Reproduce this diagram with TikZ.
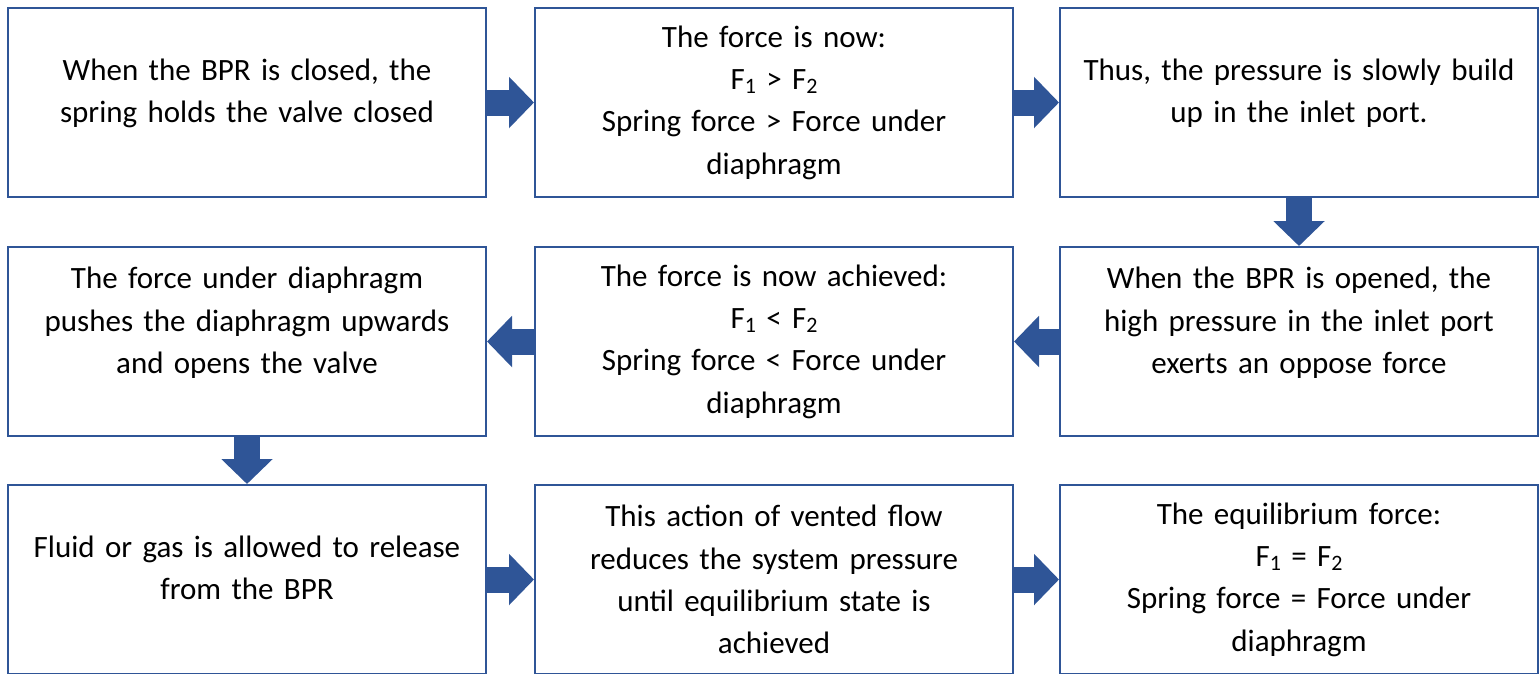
\documentclass[tikz,border=0pt]{standalone}
\usepackage{fontspec}
\setmainfont{Carlito}
\usetikzlibrary{arrows.meta}
\definecolor{bprblue}{RGB}{47,85,151}
\newcommand{\fsub}[1]{\raisebox{-0.12em}{\fontsize{22}{22}\selectfont #1}}

\begin{document}
\begin{tikzpicture}[x=1pt,y=1pt,
    stepbox/.style={draw=bprblue, line width=2pt, minimum width=478pt, minimum height=189pt,
      inner sep=0pt, text width=470pt, align=center, font=\fontsize{31}{42.3}\selectfont},
    flow/.style={bprblue, line width=26pt, -{Triangle[length=25pt,width=50pt]}}]

    \useasboundingbox (0,0) rectangle (1539,-673);

    % first row
    \node[stepbox] (closed) at (247,-102.5)
      {When the BPR is closed, the\\ spring holds the valve closed\\[-19pt]~};
    \node[stepbox] (forcenow) at (774,-102.5)
      {The force is now:\\ F\fsub{1} > F\fsub{2}\\ Spring force > Force under\\ diaphragm};
    \node[stepbox] (buildup) at (1299,-102.5)
      {Thus, the pressure is slowly build\\ up in the inlet port.\\[-19pt]~};

    % second row
    \node[stepbox] (opened) at (1299,-341.5)
      {When the BPR is opened, the\\ high pressure in the inlet port\\ exerts an oppose force\\ ~};
    \node[stepbox] (achieved) at (774,-341.5)
      {The force is now achieved:\\ F\fsub{1} < F\fsub{2}\\ Spring force < Force under\\ diaphragm};
    \node[stepbox] (pushes) at (247,-341.5)
      {The force under diaphragm\\ pushes the diaphragm upwards\\ and opens the valve\\ ~};

    % third row (cut off at the bottom)
    \node[stepbox] (release) at (247,-579.5)
      {Fluid or gas is allowed to release\\ from the BPR\\[-19pt]~};
    \node[stepbox] (vented) at (774,-579.5)
      {This action of vented flow\\ reduces the system pressure\\ until equilibrium state is\\ achieved};
    \node[stepbox] (equil) at (1299,-579.5)
      {The equilibrium force:\\ F\fsub{1} = F\fsub{2}\\ Spring force = Force under\\ diaphragm};

    % block arrows
    \draw[flow] (closed.east) -- (forcenow.west);
    \draw[flow] (forcenow.east) -- (buildup.west);
    \draw[flow] (buildup.south) -- (opened.north);
    \draw[flow] (opened.west) -- (achieved.east);
    \draw[flow] (achieved.west) -- (pushes.east);
    \draw[flow] (pushes.south) -- (release.north);
    \draw[flow] (release.east) -- (vented.west);
    \draw[flow] (vented.east) -- (equil.west);

\end{tikzpicture}
\end{document}
